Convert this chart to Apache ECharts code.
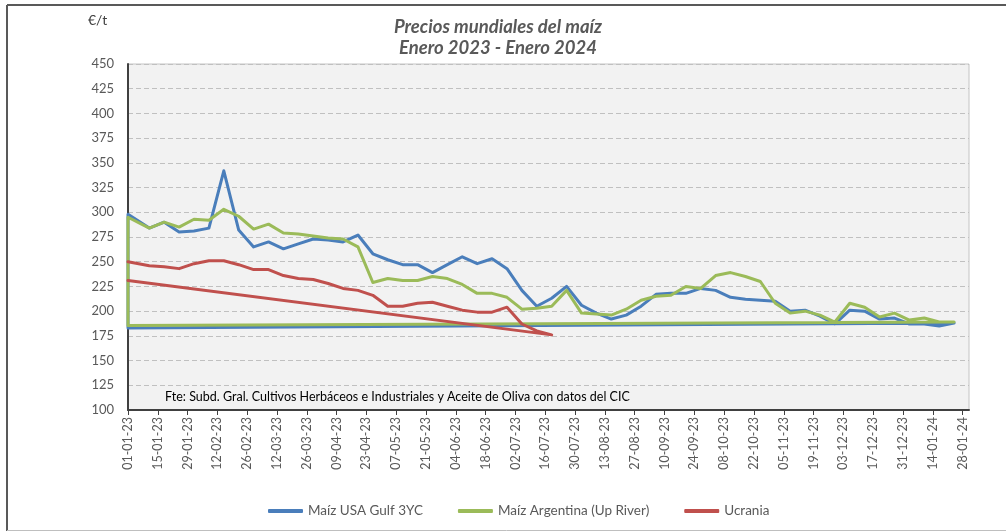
<!DOCTYPE html>
<html>
<head>
<meta charset="utf-8">
<script src="https://cdn.jsdelivr.net/npm/echarts@6/dist/echarts.min.js"></script>
<style>
html,body{margin:0;padding:0;background:#fff;}
#chart{width:1006px;height:531px;}
</style>
</head>
<body>
<div id="chart"></div>
<script>
// ---- Data ----
const dates = ['01-01-23','11-01-23','18-01-23','25-01-23','01-02-23','08-02-23','15-02-23','22-02-23','01-03-23','08-03-23','15-03-23','22-03-23','29-03-23','05-04-23','12-04-23','19-04-23','26-04-23','03-05-23','10-05-23','17-05-23','24-05-23','31-05-23','07-06-23','14-06-23','21-06-23','28-06-23','05-07-23','12-07-23','19-07-23','26-07-23','02-08-23','09-08-23','16-08-23','23-08-23','30-08-23','06-09-23','13-09-23','20-09-23','27-09-23','04-10-23','11-10-23','18-10-23','25-10-23','01-11-23','08-11-23','15-11-23','22-11-23','29-11-23','06-12-23','13-12-23','20-12-23','27-12-23','03-01-24','10-01-24','17-01-24','24-01-24'];

const usaGulf = [298,284,290,280,281,284,342,282,265,270,263,268,273,272,270,277,258,252,247,247,239,247,255,248,253,243,221,205,213,225,206,198,192,196,205,217,218,218,223,221,214,212,211,210,200,201,195,187,201,200,192,193,187,187,185,188];

const argentina = [295,284,290,285,293,292,303,296,283,288,279,278,276,274,273,265,229,233,231,231,235,233,227,218,218,214,202,203,205,221,198,197,196,202,211,215,216,225,223,236,239,235,230,208,198,200,196,189,208,204,194,198,191,193,189,189];

const ucrania = [250,246,245,243,248,251,251,247,242,242,236,233,232,228,223,221,216,205,205,208,209,205,201,199,199,204,187,180,176];

// values of the closing segments that run back to the first date
const usaReturn = 183;
const argReturn = 185.5;
const ucrReturn = 231;

const tickLabels = ['01-01-23','15-01-23','29-01-23','12-02-23','26-02-23','12-03-23','26-03-23','09-04-23','23-04-23','07-05-23','21-05-23','04-06-23','18-06-23','02-07-23','16-07-23','30-07-23','13-08-23','27-08-23','10-09-23','24-09-23','08-10-23','22-10-23','05-11-23','19-11-23','03-12-23','17-12-23','31-12-23','14-01-24','28-01-24'];
const axisStart = '01-01-23';
const axisEnd = '31-01-24';

const seriesNames = ['Maíz USA Gulf 3YC','Maíz Argentina (Up River)','Ucrania'];
const colors = ['#4A7EBB','#9BBB59','#C0504D'];

// ---- Helpers ----
function parseD(s){
  const p = s.split('-');
  return Date.UTC(2000 + (+p[2]), (+p[1]) - 1, +p[0]);
}
const t0 = parseD(axisStart);
function dayOf(s){ return Math.round((parseD(s) - t0) / 864e5); }
function fmt(d){
  const dt = new Date(t0 + d * 864e5);
  const dd = String(dt.getUTCDate()).padStart(2,'0');
  const mm = String(dt.getUTCMonth()+1).padStart(2,'0');
  const yy = String(dt.getUTCFullYear()%100).padStart(2,'0');
  return dd + '-' + mm + '-' + yy;
}
const days = dates.map(dayOf);
const tickDays = tickLabels.map(dayOf);

function pts(vals){ return vals.map((v,i)=>[days[i], v]); }
const usaData = [[days[0], usaReturn]].concat(pts(usaGulf)).concat([[days[0], usaReturn]]);
const argData = [[days[0], argReturn]].concat(pts(argentina)).concat([[days[0], argReturn]]);
const ucrData = pts(ucrania).concat([[days[0], ucrReturn]]);

const FONT = 'Lato, "Open Sans", sans-serif';

const chart = echarts.init(document.getElementById('chart'), null, {renderer:'canvas'});
function lineSeries(name, data, color){
  return {
    name: name, type: 'line', data: data, showSymbol: false, symbol: 'none',
    lineStyle: {color: color, width: 3, join: 'round', cap: 'round'},
    itemStyle: {color: color},
    emphasis: {disabled: true}
  };
}
chart.setOption({
  animation: false,
  backgroundColor: '#ffffff',
  textStyle: {fontFamily: FONT},
  grid: {
    left: 128, right: 37, top: 64, bottom: 121,
    show: true, backgroundColor: '#f2f2f2', borderColor: '#c4c4c4', borderWidth: 1
  },
  xAxis: {
    type: 'value',
    min: 0, max: dayOf(axisEnd),
    splitLine: {show: false},
    axisLine: {show: true, onZero: false, lineStyle: {color: '#404040', width: 2}},
    axisTick: {show: true, customValues: tickDays, length: 5, lineStyle: {color: '#404040', width: 1}},
    axisLabel: {
      customValues: tickDays, rotate: 90, margin: 7,
      color: '#595959', fontSize: 12.5, fontFamily: FONT,
      formatter: v => fmt(v)
    }
  },
  yAxis: {
    type: 'value', min: 100, max: 450, interval: 25,
    axisLine: {show: true, lineStyle: {color: '#404040', width: 2}},
    axisTick: {show: false},
    axisLabel: {color: '#595959', fontSize: 13, margin: 14, fontFamily: FONT},
    splitLine: {show: true, lineStyle: {color: '#c0c0c0', width: 1, type: [5,3]}}
  },
  legend: {
    data: seriesNames,
    left: 263, top: 499,
    icon: 'roundRect', itemWidth: 35, itemHeight: 4, itemGap: 35,
    textStyle: {color: '#595959', fontSize: 13.5, fontFamily: FONT},
    selectedMode: false
  },
  series: [
    lineSeries(seriesNames[0], usaData, colors[0]),
    lineSeries(seriesNames[1], argData, colors[1]),
    lineSeries(seriesNames[2], ucrData, colors[2])
  ],
  graphic: [
    {type:'line', shape:{x1:7,y1:5,x2:1006,y2:5}, style:{stroke:'#595959', lineWidth:2}, silent:true},
    {type:'line', shape:{x1:7,y1:5,x2:7,y2:531}, style:{stroke:'#595959', lineWidth:2}, silent:true},
    {type:'line', shape:{x1:7,y1:530.5,x2:1006,y2:530.5}, style:{stroke:'#bfbfbf', lineWidth:1}, silent:true},
    {type:'text', x:498, y:27, style:{text:'Precios mundiales del maíz', fill:'#595959', font:'italic bold 18.5px ' + FONT, textAlign:'center', textVerticalAlign:'middle'}, silent:true},
    {type:'text', x:498, y:48, style:{text:'Enero 2023 - Enero 2024', fill:'#595959', font:'italic bold 18.5px ' + FONT, textAlign:'center', textVerticalAlign:'middle'}, silent:true},
    {type:'text', x:88, y:20, style:{text:'€/t', fill:'#404040', font:'14px ' + FONT, textAlign:'left', textVerticalAlign:'middle'}, silent:true},
    {type:'text', x:165, y:397, z:10, style:{text:'Fte: Subd. Gral. Cultivos Herbáceos e Industriales y Aceite de Oliva con datos del CIC', fill:'#000000', font:'12.5px ' + FONT, textAlign:'left', textVerticalAlign:'middle'}, silent:true}
  ]
});
</script>
</body>
</html>
